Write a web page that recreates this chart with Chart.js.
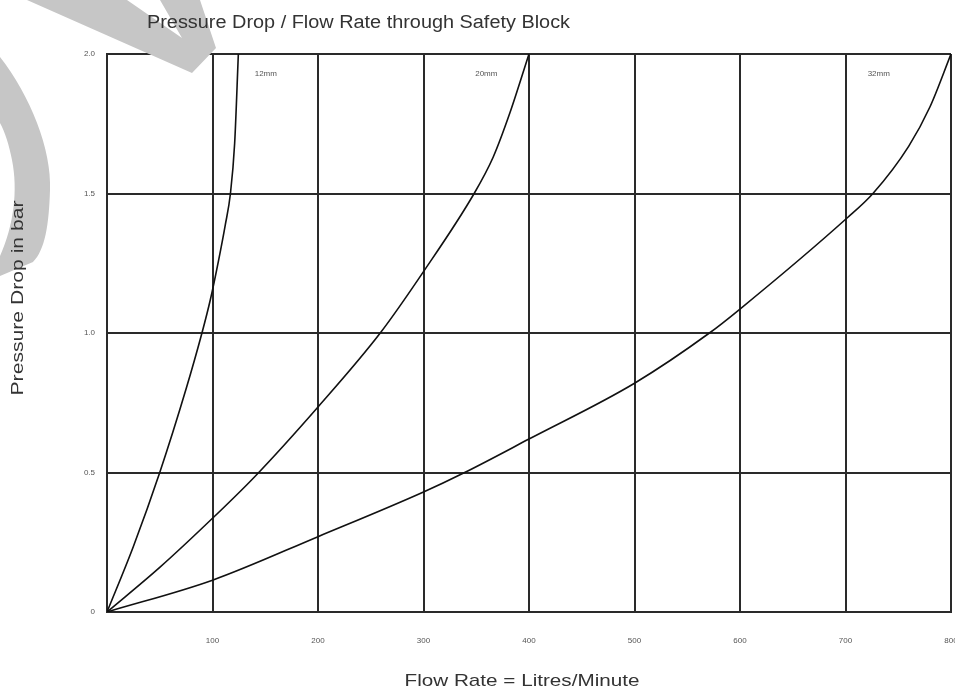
<!DOCTYPE html>
<html>
<head>
<meta charset="utf-8">
<script src="https://cdn.jsdelivr.net/npm/chart.js@4.4.1/dist/chart.umd.min.js"></script>
<style>
  html, body { margin: 0; padding: 0; background: #fff; }
  #wrap { width: 955px; height: 691px; }
</style>
</head>
<body>
<div id="wrap"><canvas id="pressureChart"></canvas></div>
<script>
  // values (flow l/min, pressure bar)
  const flow12 = [0, 25, 50, 75, 90, 98, 106, 112, 117, 121, 124.5];
  const drop12 = [0, 0.235, 0.5, 0.8, 1.0, 1.12, 1.265, 1.385, 1.5, 1.68, 2.0];

  const flow20 = [0, 50, 100, 140, 200, 259, 300, 348, 366, 382, 400];
  const drop20 = [0, 0.16, 0.336, 0.485, 0.735, 1.0, 1.22, 1.5, 1.63, 1.79, 2.0];

  const flow32 = [0, 100, 200, 300, 339, 400, 500, 571, 600, 702, 726, 760, 780, 800];
  const drop32 = [0, 0.114, 0.27, 0.43, 0.5, 0.62, 0.82, 1.0, 1.086, 1.414, 1.5, 1.67, 1.81, 2.0];

  const seriesNames = ["12mm", "20mm", "32mm"];
  const labelFlow = [140, 349, 721];
  const labelDrop = [1.93, 1.93, 1.93];

  const xTicks = [0, 100, 200, 300, 400, 500, 600, 700, 800];
  const yTicks = [0, 0.5, 1.0, 1.5, 2.0];

  function toPoints(xs, ys) {
    return xs.map((x, i) => ({ x: x, y: ys[i] }));
  }

  // scanned lettering is wider than Liberation Sans, so stretch to the measured width
  function wideText(ctx, text, x, y, size, width, angle) {
    ctx.save();
    ctx.font = size + "px 'Liberation Sans', Arial, sans-serif";
    const w = ctx.measureText(text).width;
    ctx.translate(x, y);
    if (angle) ctx.rotate(angle);
    ctx.scale(width / w, 1);
    ctx.fillText(text, 0, 0);
    ctx.restore();
  }

  const overlay = {
    id: "overlay",
    afterDraw(chart) {
      const ctx = chart.ctx;
      const xs = chart.scales.x;
      const ys = chart.scales.y;
      ctx.save();

      // curve names
      ctx.fillStyle = "#555";
      ctx.font = "8px 'Liberation Sans', Arial, sans-serif";
      ctx.textBaseline = "middle";
      seriesNames.forEach((name, i) => {
        ctx.fillText(name, xs.getPixelForValue(labelFlow[i]), ys.getPixelForValue(labelDrop[i]));
      });

      // grey scan smudge in the top-left corner
      ctx.fillStyle = "#c6c6c6";
      ctx.beginPath();
      ctx.moveTo(27, 0);
      ctx.lineTo(127, 0);
      ctx.lineTo(182, 38);
      ctx.lineTo(160, 0);
      ctx.lineTo(200, 0);
      ctx.lineTo(216, 48);
      ctx.lineTo(192, 73);
      ctx.closePath();
      ctx.fill();

      ctx.beginPath();
      ctx.moveTo(0, 57);
      ctx.bezierCurveTo(30, 95, 52, 150, 50, 190);
      ctx.bezierCurveTo(49, 225, 45, 250, 33, 262);
      ctx.lineTo(0, 276);
      ctx.lineTo(0, 256);
      ctx.bezierCurveTo(14, 225, 18, 190, 12, 160);
      ctx.bezierCurveTo(9, 145, 5, 132, 0, 123);
      ctx.closePath();
      ctx.fill();

      // titles
      ctx.fillStyle = "#333";
      ctx.textBaseline = "middle";
      ctx.textAlign = "left";
      wideText(ctx, "Pressure Drop / Flow Rate through Safety Block", 147, 23, 18, 423, 0);
      ctx.textAlign = "center";
      wideText(ctx, "Flow Rate = Litres/Minute", 522, 681, 17, 235, 0);
      wideText(ctx, "Pressure Drop in bar", 18, 298, 17, 195, -Math.PI / 2);
      ctx.restore();
    },
  };

  const lineStyle = {
    showLine: true,
    borderColor: "#111",
    borderWidth: 1.6,
    pointRadius: 0,
    cubicInterpolationMode: "monotone",
    fill: false,
  };

  new Chart(document.getElementById("pressureChart").getContext("2d"), {
    type: "scatter",
    data: {
      datasets: [
        Object.assign({ label: seriesNames[0], data: toPoints(flow12, drop12) }, lineStyle),
        Object.assign({ label: seriesNames[1], data: toPoints(flow20, drop20) }, lineStyle),
        Object.assign({ label: seriesNames[2], data: toPoints(flow32, drop32) }, lineStyle),
      ],
    },
    options: {
      responsive: true,
      maintainAspectRatio: false,
      animation: false,
      layout: { padding: { top: 54, right: 4, left: 0, bottom: 0 } },
      plugins: {
        legend: { display: false },
        tooltip: { enabled: false },
      },
      scales: {
        x: {
          type: "linear",
          min: 0,
          max: 800,
          afterBuildTicks: (s) => { s.ticks = xTicks.map((v) => ({ value: v })); },
          afterFit: (s) => { s.height = 79; s.paddingLeft = 0; s.paddingRight = 0; },
          grid: { color: "#2a2a2a", lineWidth: 2, drawTicks: false },
          border: { color: "#2a2a2a", width: 2 },
          ticks: {
            padding: 24,
            color: "#555",
            font: { size: 8, family: "'Liberation Sans', Arial, sans-serif" },
            callback: (v) => (v === 0 ? "" : String(v)),
          },
        },
        y: {
          type: "linear",
          min: 0,
          max: 2,
          afterBuildTicks: (s) => { s.ticks = yTicks.map((v) => ({ value: v })); },
          afterFit: (s) => { s.width = 107; s.paddingTop = 0; s.paddingBottom = 0; },
          grid: { color: "#2a2a2a", lineWidth: 2, drawTicks: false },
          border: { color: "#2a2a2a", width: 2 },
          ticks: {
            padding: 12,
            color: "#555",
            font: { size: 8, family: "'Liberation Sans', Arial, sans-serif" },
            callback: (v) => (v === 0 ? "0" : v.toFixed(1)),
          },
        },
      },
    },
    plugins: [overlay],
  });
</script>
</body>
</html>
